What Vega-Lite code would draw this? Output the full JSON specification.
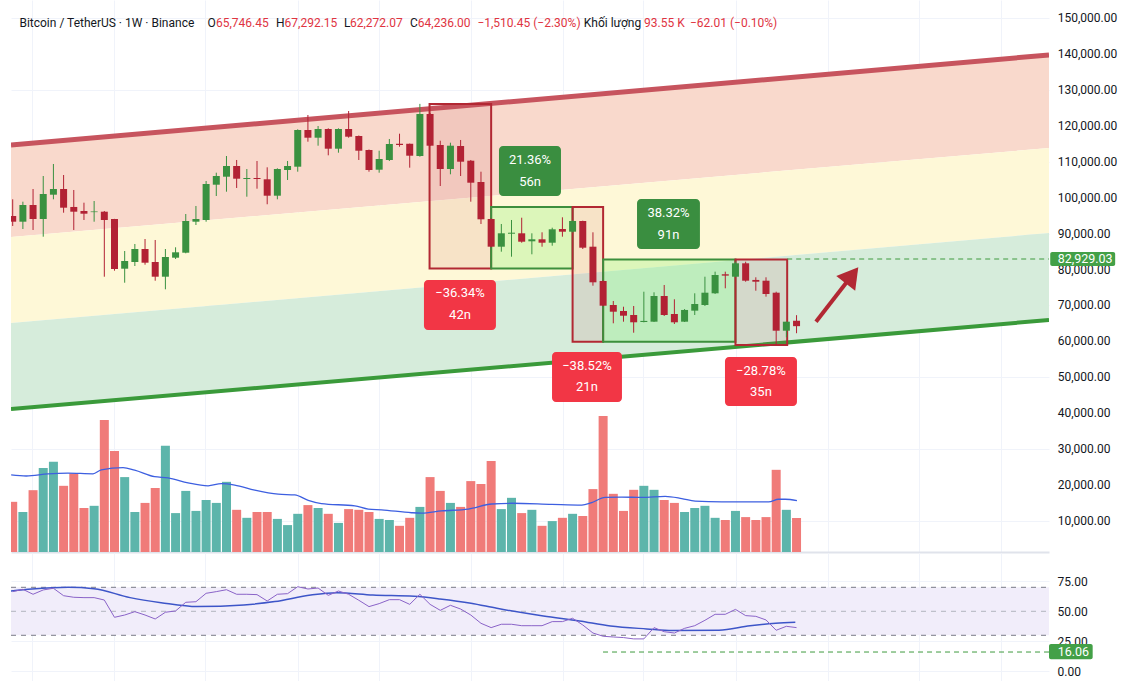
{
  "$schema": "https://vega.github.io/schema/vega-lite/v6.json",
  "description": "BTC/USDT weekly candles with channel, boxes, volume and RSI",
  "background": "white",
  "padding": {"left": 10, "top": 0, "right": 0, "bottom": 0},
  "autosize": {"type": "pad"},
  "spacing": 1,
  "bounds": "flush",
  "datasets": {
    "candles": [
      {"t":0,"o":94900,"h":99544,"l":92114,"c":93310,"v":138,"rsi":66.4},
      {"t":1,"o":93310,"h":98876,"l":91279,"c":97958,"v":110,"rsi":68.3},
      {"t":2,"o":97958,"h":102410,"l":91000,"c":94062,"v":170,"rsi":64.2},
      {"t":3,"o":94062,"h":106028,"l":89135,"c":101019,"v":231,"rsi":67.8},
      {"t":4,"o":100824,"h":109368,"l":99544,"c":102410,"v":248,"rsi":69.2},
      {"t":5,"o":102410,"h":106306,"l":95813,"c":97206,"v":182,"rsi":63.0},
      {"t":6,"o":97411,"h":102132,"l":91000,"c":96094,"v":216,"rsi":61.7},
      {"t":7,"o":96288,"h":98597,"l":93783,"c":95537,"v":121,"rsi":61.4},
      {"t":8,"o":95970,"h":99070,"l":93310,"c":96160,"v":127,"rsi":61.4},
      {"t":9,"o":96094,"h":96288,"l":78002,"c":93783,"v":363,"rsi":59.4},
      {"t":10,"o":94062,"h":94100,"l":79673,"c":80146,"v":278,"rsi":45.0},
      {"t":11,"o":80230,"h":85155,"l":76332,"c":82373,"v":206,"rsi":46.9},
      {"t":12,"o":82095,"h":87104,"l":80981,"c":85712,"v":110,"rsi":49.7},
      {"t":13,"o":85712,"h":88495,"l":81342,"c":81900,"v":135,"rsi":46.9},
      {"t":14,"o":82095,"h":88217,"l":76889,"c":78002,"v":176,"rsi":43.6},
      {"t":15,"o":78002,"h":85712,"l":74496,"c":83486,"v":292,"rsi":49.2},
      {"t":16,"o":83291,"h":86184,"l":82929,"c":84793,"v":107,"rsi":50.3},
      {"t":17,"o":84682,"h":95451,"l":84515,"c":93504,"v":168,"rsi":57.5},
      {"t":18,"o":93310,"h":97680,"l":92392,"c":94062,"v":113,"rsi":58.0},
      {"t":19,"o":93783,"h":104637,"l":93310,"c":103802,"v":143,"rsi":65.0},
      {"t":20,"o":103607,"h":106947,"l":100462,"c":106028,"v":135,"rsi":66.4},
      {"t":21,"o":105833,"h":111594,"l":101659,"c":108811,"v":193,"rsi":68.0},
      {"t":22,"o":108811,"h":110481,"l":102689,"c":105276,"v":116,"rsi":64.2},
      {"t":23,"o":105193,"h":107976,"l":100267,"c":105471,"v":94,"rsi":64.2},
      {"t":24,"o":105471,"h":110203,"l":102494,"c":105193,"v":110,"rsi":63.9},
      {"t":25,"o":105110,"h":108450,"l":98160,"c":100546,"v":110,"rsi":58.6},
      {"t":26,"o":100546,"h":108171,"l":99544,"c":107976,"v":91,"rsi":64.2},
      {"t":27,"o":107698,"h":110203,"l":104915,"c":108811,"v":74,"rsi":64.7},
      {"t":28,"o":108616,"h":119025,"l":107225,"c":118830,"v":105,"rsi":70.5},
      {"t":29,"o":118830,"h":123004,"l":115573,"c":116687,"v":129,"rsi":68.6},
      {"t":30,"o":116687,"h":119943,"l":114460,"c":119108,"v":121,"rsi":69.4},
      {"t":31,"o":119108,"h":119303,"l":111789,"c":113626,"v":105,"rsi":63.3},
      {"t":32,"o":113626,"h":119300,"l":112512,"c":119108,"v":80,"rsi":66.9},
      {"t":33,"o":119108,"h":124117,"l":116687,"c":116965,"v":118,"rsi":64.2},
      {"t":34,"o":117160,"h":117300,"l":110481,"c":113069,"v":116,"rsi":59.2},
      {"t":35,"o":113264,"h":113400,"l":107225,"c":107698,"v":110,"rsi":53.9},
      {"t":36,"o":107782,"h":113069,"l":106947,"c":110759,"v":91,"rsi":56.4},
      {"t":37,"o":110481,"h":116326,"l":110203,"c":114934,"v":88,"rsi":59.7},
      {"t":38,"o":115000,"h":117800,"l":114180,"c":114650,"v":72,"rsi":59.7},
      {"t":39,"o":115000,"h":115050,"l":108339,"c":111678,"v":94,"rsi":55.8},
      {"t":40,"o":111594,"h":126100,"l":111400,"c":123283,"v":124,"rsi":64.2},
      {"t":41,"o":123283,"h":123560,"l":114400,"c":114460,"v":206,"rsi":55.8},
      {"t":42,"o":114655,"h":115851,"l":103245,"c":107976,"v":168,"rsi":50.8},
      {"t":43,"o":107976,"h":115295,"l":106502,"c":114460,"v":135,"rsi":55.0},
      {"t":44,"o":114377,"h":116047,"l":106028,"c":110008,"v":124,"rsi":51.9},
      {"t":45,"o":110286,"h":110481,"l":98876,"c":104163,"v":195,"rsi":46.9},
      {"t":46,"o":104358,"h":107225,"l":92670,"c":93978,"v":187,"rsi":40.0},
      {"t":47,"o":94062,"h":94250,"l":86200,"c":86353,"v":250,"rsi":36.4},
      {"t":48,"o":86353,"h":92670,"l":84960,"c":90081,"v":118,"rsi":39.2},
      {"t":49,"o":89970,"h":93783,"l":83569,"c":90248,"v":149,"rsi":39.2},
      {"t":50,"o":90081,"h":94422,"l":87464,"c":87743,"v":107,"rsi":38.0},
      {"t":51,"o":87855,"h":90081,"l":84237,"c":88411,"v":116,"rsi":38.0},
      {"t":52,"o":88411,"h":90360,"l":86353,"c":87464,"v":72,"rsi":38.0},
      {"t":53,"o":87464,"h":91640,"l":86631,"c":91195,"v":85,"rsi":41.4},
      {"t":54,"o":91279,"h":94534,"l":89135,"c":90527,"v":94,"rsi":41.4},
      {"t":55,"o":90527,"h":93700,"l":90300,"c":93504,"v":105,"rsi":44.2},
      {"t":56,"o":93504,"h":93600,"l":85712,"c":86075,"v":99,"rsi":38.6},
      {"t":57,"o":86353,"h":90360,"l":75497,"c":76443,"v":173,"rsi":31.9},
      {"t":58,"o":76806,"h":77000,"l":69800,"c":69932,"v":374,"rsi":29.2},
      {"t":59,"o":70127,"h":71241,"l":65037,"c":68262,"v":160,"rsi":28.6},
      {"t":60,"o":68460,"h":69653,"l":65482,"c":67148,"v":113,"rsi":28.1},
      {"t":61,"o":67344,"h":69849,"l":62416,"c":65315,"v":171,"rsi":27.0},
      {"t":62,"o":65400,"h":73827,"l":65300,"c":65700,"v":182,"rsi":27.0},
      {"t":63,"o":65482,"h":73662,"l":65400,"c":72632,"v":171,"rsi":36.4},
      {"t":64,"o":72632,"h":75694,"l":67065,"c":67344,"v":143,"rsi":33.0},
      {"t":65,"o":67622,"h":71716,"l":64839,"c":65315,"v":135,"rsi":31.9},
      {"t":66,"o":65482,"h":69000,"l":65400,"c":68746,"v":110,"rsi":35.8},
      {"t":67,"o":68551,"h":73383,"l":67344,"c":70406,"v":121,"rsi":38.0},
      {"t":68,"o":70127,"h":78002,"l":69849,"c":73550,"v":127,"rsi":42.5},
      {"t":69,"o":73383,"h":79403,"l":73200,"c":78484,"v":94,"rsi":47.5},
      {"t":70,"o":78680,"h":79403,"l":74774,"c":78300,"v":88,"rsi":47.5},
      {"t":71,"o":78002,"h":82177,"l":77900,"c":81734,"v":113,"rsi":51.6},
      {"t":72,"o":81734,"h":82177,"l":76610,"c":76889,"v":96,"rsi":46.4},
      {"t":73,"o":77100,"h":77837,"l":74106,"c":76610,"v":88,"rsi":45.8},
      {"t":74,"o":76889,"h":77837,"l":72448,"c":73189,"v":96,"rsi":42.8},
      {"t":75,"o":73550,"h":73827,"l":58998,"c":62976,"v":226,"rsi":34.2},
      {"t":76,"o":62976,"h":65500,"l":61137,"c":65482,"v":116,"rsi":37.5},
      {"t":77,"o":65746.45,"h":67292.15,"l":62272.07,"c":64236,"v":93.55,"rsi":36.4}
    ],
    "channel": [
      {"t":-0.167,"red":114653,"py":89048,"yg":65113,"g":41178},
      {"t":101.8,"red":139702,"py":113819,"yg":90162,"g":65948}
    ],
    "boxes": [
      {"t":40.95,"t2":47,"top":126100,"bot":80300,"kind":"red"},
      {"t":47,"t2":55,"top":97400,"bot":80300,"kind":"green"},
      {"t":55,"t2":58,"top":97400,"bot":59900,"kind":"red"},
      {"t":58,"t2":71,"top":82800,"bot":59900,"kind":"green"},
      {"t":71,"t2":76.08,"top":82800,"bot":59000,"kind":"red"}
    ],
    "tags": [
      {"t":47.77,"t2":53.86,"top":114377,"bot":100462,"tc":50.82,"p1":110481,"p2":104400,"l1":"21.36%","l2":"56n","kind":"green"},
      {"t":61.33,"t2":67.51,"top":99627,"bot":85712,"tc":64.42,"p1":95645,"p2":89609,"l1":"38.32%","l2":"91n","kind":"green"},
      {"t":40.4,"t2":47.47,"top":77085,"bot":63170,"tc":43.94,"p1":73380,"p2":67344,"l1":"−36.34%","l2":"42n","kind":"red"},
      {"t":52.98,"t2":59.85,"top":57048,"bot":43133,"tc":56.41,"p1":53151,"p2":47307,"l1":"−38.52%","l2":"21n","kind":"red"},
      {"t":69.97,"t2":77.04,"top":55657,"bot":42020,"tc":73.5,"p1":51760,"p2":45915,"l1":"−28.78%","l2":"35n","kind":"red"}
    ],
    "header": [
      {"t":0.66,"p":148600,"txt":"Bitcoin / TetherUS · 1W · Binance","role":"label"},
      {"t":19.14,"p":148600,"txt":"O","role":"label"},
      {"t":19.97,"p":148600,"txt":"65,746.45","role":"value"},
      {"t":25.86,"p":148600,"txt":"H","role":"label"},
      {"t":26.71,"p":148600,"txt":"67,292.15","role":"value"},
      {"t":32.54,"p":148600,"txt":"L","role":"label"},
      {"t":33.13,"p":148600,"txt":"62,272.07","role":"value"},
      {"t":39.03,"p":148600,"txt":"C","role":"label"},
      {"t":39.8,"p":148600,"txt":"64,236.00","role":"value"},
      {"t":45.65,"p":148600,"txt":"−1,510.45 (−2.30%)","role":"value"},
      {"t":56.1,"p":148600,"txt":"Khối lượng","role":"label"},
      {"t":62.02,"p":148600,"txt":"93.55 K","role":"value"},
      {"t":66.53,"p":148600,"txt":"−62.01 (−0.10%)","role":"value"}
    ],
    "pricelabels": [
      {"t":102.65,"p":10000},{"t":102.65,"p":20000},{"t":102.65,"p":30000},{"t":102.65,"p":40000},
      {"t":102.65,"p":50000},{"t":102.65,"p":60000},{"t":102.65,"p":70000},{"t":102.65,"p":80000},
      {"t":102.65,"p":90000},{"t":102.65,"p":100000},{"t":102.65,"p":110000},{"t":102.65,"p":120000},
      {"t":102.65,"p":130000},{"t":102.65,"p":140000},{"t":102.65,"p":150000}
    ],
    "volma": [
      {"t":-0.15,"v":212},{"t":1.33,"v":209},{"t":3.46,"v":215},{"t":5.43,"v":217},{"t":7.89,"v":215},
      {"t":8.7,"v":226},{"t":10.84,"v":232},{"t":11.98,"v":225},{"t":13.94,"v":207},{"t":15.26,"v":204},
      {"t":17.23,"v":190},{"t":19.19,"v":182},{"t":20.5,"v":188},{"t":21.81,"v":184},{"t":23.78,"v":170},
      {"t":26.08,"v":159},{"t":27.71,"v":157},{"t":29.03,"v":142},{"t":30.33,"v":133},{"t":33.61,"v":127},
      {"t":34.93,"v":118},{"t":36.23,"v":116},{"t":39.18,"v":108},{"t":40.17,"v":107},{"t":42.13,"v":113},
      {"t":44.76,"v":118},{"t":47.05,"v":132},{"t":49.02,"v":134},{"t":52.95,"v":131},{"t":55.9,"v":129},
      {"t":56.88,"v":136},{"t":58.19,"v":150},{"t":59.83,"v":151},{"t":61.8,"v":150},{"t":64.09,"v":153},
      {"t":65.73,"v":147},{"t":67.04,"v":140},{"t":69.67,"v":138},{"t":72.62,"v":138},{"t":74.26,"v":138},
      {"t":75.24,"v":145},{"t":75.89,"v":145},{"t":77.04,"v":141}
    ],
    "rsima": [
      {"t":-0.2,"r":66.9},{"t":1.9,"r":68.6},{"t":5.45,"r":70.0},{"t":7.98,"r":68.9},{"t":11.53,"r":61.4},
      {"t":14.58,"r":57.2},{"t":18.13,"r":53.9},{"t":22.7,"r":55.3},{"t":25.75,"r":58.1},{"t":29.29,"r":63.6},
      {"t":31.83,"r":65.5},{"t":35.38,"r":63.6},{"t":39.44,"r":62.5},{"t":41.97,"r":60.3},{"t":45.02,"r":56.7},
      {"t":47.56,"r":52.5},{"t":52.13,"r":46.1},{"t":55.68,"r":41.9},{"t":58.72,"r":37.8},{"t":62.28,"r":35.3},
      {"t":64.81,"r":33.9},{"t":69.38,"r":34.2},{"t":72.43,"r":38.0},{"t":74.96,"r":40.0},{"t":76.88,"r":40.8}
    ]
  },
  "vconcat": [
    {
      "width": 1038,
      "height": 552,
      "encoding": {
        "x": {
          "field": "t", "type": "quantitative", "title": null,
          "scale": {"domain": [-0.167, 101.8], "nice": false, "zero": false, "padding": 0},
          "axis": {"values": [1.9, 9.95, 18.89, 28.02, 35.98, 45.02, 54.06, 61.92, 71.05, 80.09, 89.02, 97.08],
                   "grid": true, "labels": false, "ticks": false, "domain": true, "domainColor": "#e0e3eb", "domainWidth": 2}
        }
      },
      "layer": [
        {
          "layer": [
            {
              "data": {"name": "channel"},
              "mark": {"type": "area", "color": "#f9d9cc"},
              "encoding": {
                "y": {"field": "red", "type": "quantitative", "title": null,
                      "scale": {"domain": [1387, 155009], "nice": false, "zero": false},
                      "axis": {"orient": "right", "values": [10000,20000,30000,40000,50000,60000,70000,80000,90000,100000,110000,120000,130000,140000,150000],
                               "grid": true, "labels": false, "ticks": false, "domain": false}},
                "y2": {"field": "py"}
              }
            },
            {"data": {"name": "channel"}, "mark": {"type": "area", "color": "#fef8d7"},
             "encoding": {"y": {"field": "py", "type": "quantitative"}, "y2": {"field": "yg"}}},
            {"data": {"name": "channel"}, "mark": {"type": "area", "color": "#d6ecdb"},
             "encoding": {"y": {"field": "yg", "type": "quantitative"}, "y2": {"field": "g"}}},
            {"data": {"name": "channel"}, "mark": {"type": "line", "color": "#c7545e", "strokeWidth": 5, "clip": true},
             "encoding": {"y": {"field": "red", "type": "quantitative"}}},
            {"data": {"name": "channel"}, "mark": {"type": "line", "color": "#3a9a3a", "strokeWidth": 4, "clip": true},
             "encoding": {"y": {"field": "g", "type": "quantitative"}}},
            {
              "data": {"name": "boxes"},
              "mark": {"type": "rect", "strokeWidth": 2},
              "encoding": {
                "x2": {"field": "t2"},
                "y": {"field": "top", "type": "quantitative"},
                "y2": {"field": "bot"},
                "fill": {"condition": {"test": "datum.kind === 'red'", "value": "#c8505a"}, "value": "#78f064"},
                "fillOpacity": {"condition": {"test": "datum.kind === 'red'", "value": 0.12}, "value": 0.25},
                "stroke": {"condition": {"test": "datum.kind === 'red'", "value": "#b22833"}, "value": "#3d8f3d"}
              }
            },
            {
              "data": {"name": "candles"},
              "mark": {"type": "rule", "strokeWidth": 1, "clip": true},
              "encoding": {
                "y": {"field": "l", "type": "quantitative"},
                "y2": {"field": "h"},
                "color": {"condition": {"test": "datum.c >= datum.o", "value": "#3a9140"}, "value": "#b22234"}
              }
            },
            {
              "data": {"name": "candles"},
              "mark": {"type": "bar", "size": 7, "clip": true},
              "encoding": {
                "y": {"field": "o", "type": "quantitative"},
                "y2": {"field": "c"},
                "color": {"condition": {"test": "datum.c >= datum.o", "value": "#3a9140"}, "value": "#b22234"}
              }
            },
            {
              "data": {"values": [{"t": 76.08, "t2": 101.8, "p": 82929.03}]},
              "mark": {"type": "rule", "strokeDash": [5, 4], "color": "#3f9a3f", "strokeWidth": 1},
              "encoding": {"x2": {"field": "t2"}, "y": {"field": "p", "type": "quantitative"}}
            },
            {
              "data": {"name": "tags"},
              "mark": {"type": "rect", "cornerRadius": 4},
              "encoding": {
                "x2": {"field": "t2"},
                "y": {"field": "top", "type": "quantitative"},
                "y2": {"field": "bot"},
                "fill": {"condition": {"test": "datum.kind === 'red'", "value": "#f23645"}, "value": "#3a8e40"}
              }
            },
            {
              "data": {"name": "tags"},
              "mark": {"type": "text", "color": "white", "font": "Roboto", "fontSize": 13, "baseline": "middle", "align": "center"},
              "encoding": {
                "x": {"field": "tc", "type": "quantitative", "title": null},
                "y": {"field": "p1", "type": "quantitative"},
                "text": {"field": "l1"}
              }
            },
            {
              "data": {"name": "tags"},
              "mark": {"type": "text", "color": "white", "font": "Roboto", "fontSize": 13, "baseline": "middle", "align": "center"},
              "encoding": {
                "x": {"field": "tc", "type": "quantitative", "title": null},
                "y": {"field": "p2", "type": "quantitative"},
                "text": {"field": "l2"}
              }
            },
            {
              "data": {"values": [{"t": 78.91, "t2": 82.34, "p": 65480, "p2": 77976}]},
              "mark": {"type": "rule", "color": "#b22833", "strokeWidth": 4},
              "encoding": {"x2": {"field": "t2"}, "y": {"field": "p", "type": "quantitative"}, "y2": {"field": "p2"}}
            },
            {
              "data": {"values": [{"t": 82.34, "p": 77976}]},
              "mark": {"type": "point", "shape": "M0,-1L1,0.7L-1,0.7Z", "filled": true, "color": "#b22833", "opacity": 1, "size": 576, "angle": 38},
              "encoding": {"y": {"field": "p", "type": "quantitative"}}
            },
            {
              "data": {"name": "pricelabels"},
              "mark": {"type": "text", "color": "#131722", "font": "Roboto", "fontSize": 12, "align": "left", "baseline": "middle"},
              "encoding": {
                "y": {"field": "p", "type": "quantitative"},
                "text": {"field": "p", "type": "quantitative", "format": ",.2f"}
              }
            },
            {
              "data": {"values": [{"t": 101.92, "t2": 108.3, "top": 84900, "bot": 81000, "tx": 102.65, "p": 82929.03, "txt": "82,929.03"}]},
              "layer": [
                {"mark": {"type": "rect", "color": "#43a047", "cornerRadius": 2},
                 "encoding": {"x2": {"field": "t2"}, "y": {"field": "top", "type": "quantitative"}, "y2": {"field": "bot"}}},
                {"mark": {"type": "text", "color": "white", "font": "Roboto", "fontSize": 12.5, "align": "left", "baseline": "middle"},
                 "encoding": {"x": {"field": "tx", "type": "quantitative", "title": null}, "y": {"field": "p", "type": "quantitative"}, "text": {"field": "txt"}}}
              ]
            },
            {
              "data": {"name": "header"},
              "mark": {"type": "text", "font": "Roboto", "fontSize": 12, "align": "left", "baseline": "middle"},
              "encoding": {
                "y": {"field": "p", "type": "quantitative"},
                "text": {"field": "txt"},
                "color": {"condition": {"test": "datum.role === 'value'", "value": "#e0343f"}, "value": "#131722"}
              }
            }
          ]
        },
        {
          "layer": [
            {
              "data": {"name": "candles"},
              "mark": {"type": "bar", "size": 9, "clip": true},
              "encoding": {
                "y": {"field": "v", "type": "quantitative", "axis": null, "scale": {"domain": [0, 1518], "nice": false}},
                "color": {"condition": {"test": "datum.c >= datum.o", "value": "#5db5ab"}, "value": "#f07b79"}
              }
            },
            {
              "data": {"name": "volma"},
              "mark": {"type": "line", "color": "#3d5fe0", "strokeWidth": 1.3, "interpolate": "monotone", "clip": true},
              "encoding": {"y": {"field": "v", "type": "quantitative"}}
            }
          ]
        }
      ],
      "resolve": {"scale": {"y": "independent"}}
    },
    {
      "width": 1038,
      "height": 128,
      "encoding": {
        "x": {
          "field": "t", "type": "quantitative", "title": null,
          "scale": {"domain": [-0.167, 101.8], "nice": false, "zero": false, "padding": 0},
          "axis": {"values": [1.9, 9.95, 18.89, 28.02, 35.98, 45.02, 54.06, 61.92, 71.05, 80.09, 89.02, 97.08],
                   "grid": true, "labels": false, "ticks": false, "domain": false}
        }
      },
      "layer": [
        {
          "data": {"values": [{"t": -0.167, "t2": 101.8, "hi": 70, "lo": 30}]},
          "mark": {"type": "rect", "color": "#f1edfa"},
          "encoding": {
            "x2": {"field": "t2"},
            "y": {"field": "hi", "type": "quantitative", "title": null,
                  "scale": {"domain": [-8.1, 98.6], "nice": false, "zero": false},
                  "axis": {"orient": "right", "values": [0, 25, 50, 75], "format": ".2f", "grid": true, "labelAlign": "left", "labelPadding": 8, "labelOverlap": false, "ticks": false, "domain": false}},
            "y2": {"field": "lo"}
          }
        },
        {
          "data": {"values": [{"t": -0.167, "t2": 101.8, "lvl": 70}, {"t": -0.167, "t2": 101.8, "lvl": 30}]},
          "mark": {"type": "rule", "color": "#787b86", "strokeDash": [5, 5], "strokeWidth": 1},
          "encoding": {"x2": {"field": "t2"}, "y": {"field": "lvl", "type": "quantitative"}}
        },
        {
          "data": {"values": [{"t": -0.167, "t2": 101.8, "lvl": 50}]},
          "mark": {"type": "rule", "color": "#b2b5be", "strokeDash": [5, 5], "strokeWidth": 1},
          "encoding": {"x2": {"field": "t2"}, "y": {"field": "lvl", "type": "quantitative"}}
        },
        {
          "data": {"values": [{"t": 57.99, "t2": 101.8, "lvl": 16.06}]},
          "mark": {"type": "rule", "color": "#3f9a3f", "strokeDash": [5, 4], "strokeWidth": 1},
          "encoding": {"x2": {"field": "t2"}, "y": {"field": "lvl", "type": "quantitative"}}
        },
        {
          "data": {"name": "rsima"},
          "mark": {"type": "line", "color": "#3d55c8", "strokeWidth": 1.5, "interpolate": "monotone", "clip": true},
          "encoding": {"y": {"field": "r", "type": "quantitative"}}
        },
        {
          "data": {"name": "candles"},
          "mark": {"type": "line", "color": "#8a63c8", "strokeWidth": 1, "clip": true},
          "encoding": {"y": {"field": "rsi", "type": "quantitative"}}
        },
        {
          "data": {"values": [{"t": 101.8, "t2": 106.09, "top": 22.75, "bot": 10.0, "tx": 102.65, "lvl": 16.06, "txt": "16.06"}]},
          "layer": [
            {"mark": {"type": "rect", "color": "#43a047", "cornerRadius": 2},
             "encoding": {"x2": {"field": "t2"}, "y": {"field": "top", "type": "quantitative"}, "y2": {"field": "bot"}}},
            {"mark": {"type": "text", "color": "white", "font": "Roboto", "fontSize": 12.5, "align": "left", "baseline": "middle"},
             "encoding": {"x": {"field": "tx", "type": "quantitative", "title": null}, "y": {"field": "lvl", "type": "quantitative"}, "text": {"field": "txt"}}}
          ]
        }
      ]
    }
  ],
  "config": {
    "font": "Roboto",
    "view": {"stroke": null},
    "axis": {"labelFont": "Roboto", "labelFontSize": 12, "labelColor": "#131722", "gridColor": "#f0f3fa", "gridWidth": 1}
  }
}
